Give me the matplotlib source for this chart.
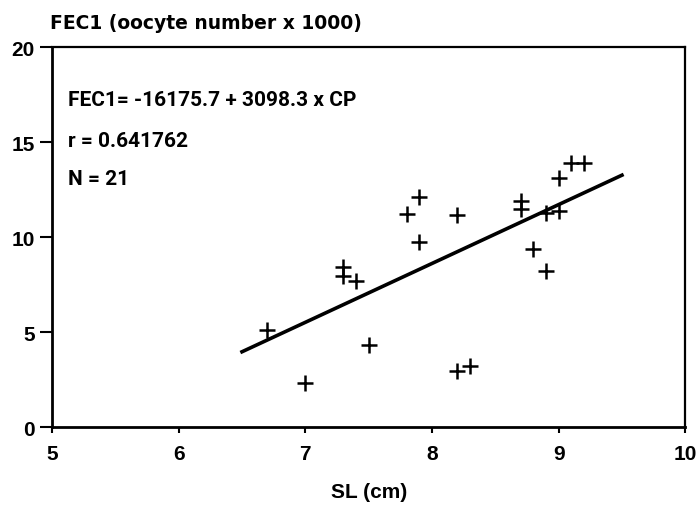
import matplotlib
matplotlib.use("Agg")
import matplotlib.pyplot as plt
import numpy as np

plt.rcParams['font.family'] = ['Liberation Sans', 'DejaVu Sans']

sl_cm = [6.7, 7.0, 7.3, 7.3, 7.4, 7.5, 7.8, 7.9, 7.9, 8.2, 8.2, 8.3,
         8.7, 8.7, 8.8, 8.9, 8.9, 9.0, 9.0, 9.1, 9.2]
fec1 = [5.1, 2.3, 8.4, 7.95, 7.7, 4.3, 11.2, 12.1, 9.75, 11.15, 2.95, 3.2,
        11.9, 11.5, 9.35, 8.2, 11.25, 11.35, 13.1, 13.9, 13.9]
intercept = -16.1757
slope = 3.0983
fit_range = [6.5, 9.5]

fig = plt.figure(figsize=(6.99, 5.06), dpi=100)
ax = fig.add_axes([0.0744, 0.154, 0.906, 0.751])

ax.plot(sl_cm, fec1, linestyle='none', marker='+', markersize=12,
        markeredgewidth=1.8, color='black')
xf = np.array(fit_range)
ax.plot(xf, intercept + slope * xf, color='black', linewidth=2.6)

ax.set_xlim(5, 10)
ax.set_ylim(0, 20)
ax.set_xticks([5, 6, 7, 8, 9, 10])
ax.set_yticks([0, 5, 10, 15, 20])
for name, s in ax.spines.items():
    s.set_linewidth(2.0 if name in ('left', 'bottom') else 1.6)
ax.tick_params(axis='x', direction='out', length=4, width=1.5, labelsize=15, pad=8)
ax.tick_params(axis='y', direction='out', length=8.5, width=1.5, labelsize=15, pad=4)
for lab in ax.get_xticklabels() + ax.get_yticklabels():
    lab.set_fontweight('bold')

ax.set_xlabel('SL (cm)', fontsize=15, fontweight='bold', labelpad=14)
fig.text(0.072, 0.953, 'FEC1 (oocyte number x 1000)', fontsize=13.5,
         fontweight='bold', family='DejaVu Sans', ha='left', va='center')

ann = dict(transform=ax.transAxes, fontsize=15, fontweight='bold',
           family=['Roboto', 'Liberation Sans'], ha='left', va='center')
ax.text(0.025, 0.863, 'FEC1= -16175.7 + 3098.3 x CP', **ann)
ax.text(0.025, 0.755, 'r = 0.641762', **ann)
ax.text(0.025, 0.653, 'N = 21', **ann)

fig.savefig('out.png', dpi=100)
